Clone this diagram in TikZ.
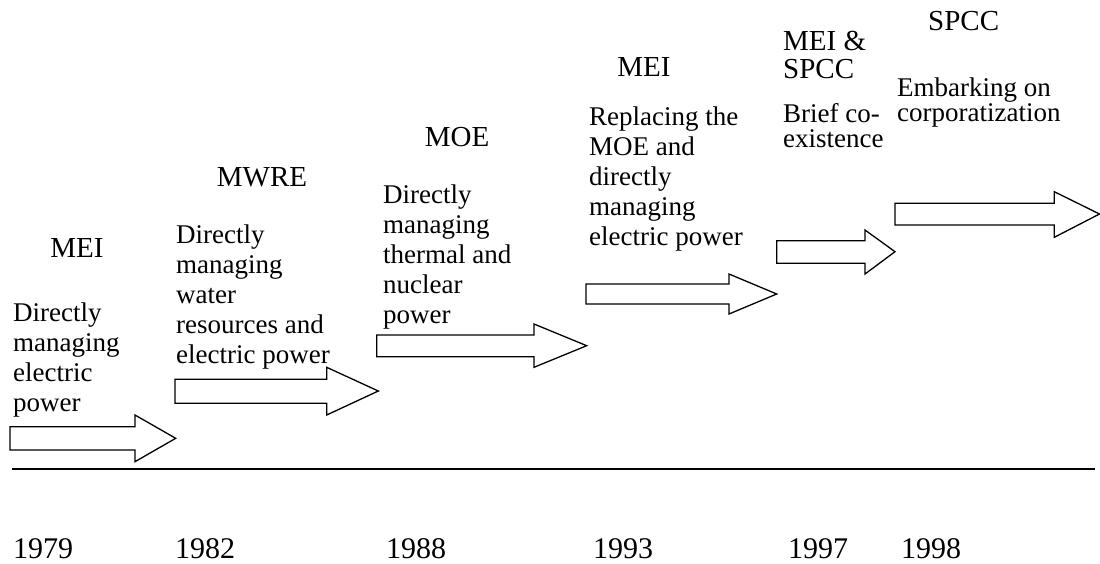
\documentclass[tikz,border=0pt]{standalone}
\usepackage{fontspec}
\setmainfont{Liberation Serif}
\newcommand\blkarrow[8]{\draw[arr] (#1,#2) -- (#4,#2) -- (#4,#5) -- (#7,#8) -- (#4,#6) -- (#4,#3) -- (#1,#3) -- cycle;}
\begin{document}
\begin{tikzpicture}[x=1pt,y=-1pt,
  arr/.style={draw=black,line width=1.3pt,fill=white,line join=miter},
  body/.style={anchor=base west,inner sep=0pt,align=left,font=\fontsize{27}{30}\selectfont},
  body5/.style={anchor=base west,inner sep=0pt,align=left,font=\fontsize{27}{24.5}\selectfont},
  head/.style={anchor=base,inner sep=0pt,align=center,font=\fontsize{29}{28}\selectfont},
  year/.style={anchor=base west,inner sep=0pt,font=\fontsize{30}{32}\selectfont}]
\useasboundingbox (0,0) rectangle (1100,563);
% headings
\node[head] (h1) at (77,257) {MEI};
\node[head] (h2) at (262,186) {MWRE};
\node[head] (h3) at (457,146) {MOE};
\node[head] (h4) at (644,76) {MEI};
\node[head,anchor=base west,align=left] (h5) at (783,78) {MEI \&\\SPCC};
\node[head,anchor=base west] (h6) at (928,30) {SPCC};
% bodies (anchor = baseline of last line)
\node[body] (b1) at (13,411) {Directly\\managing\\electric\\power};
\node[body] (b2) at (176,363.5) {Directly\\managing\\water\\resources and\\electric power};
\node[body] (b3) at (383,323.5) {Directly\\managing\\thermal and\\nuclear\\power};
\node[body] (b4) at (589,245) {Replacing the\\MOE and\\directly\\managing\\electric power};
\node[body5] (b5) at (783,147) {Brief co-\\existence};
\node[body5] (b6) at (897,121) {Embarking on\\corporatization};
% arrows
\blkarrow{10}{426.7}{450}{135}{415}{461.7}{175.7}{438.3}
\blkarrow{175}{379.3}{403.3}{326.7}{367.3}{415}{378.3}{391}
\blkarrow{376.7}{335}{356.7}{534}{324}{367.3}{586.7}{345.7}
\blkarrow{586}{284}{304}{729}{274}{314}{776.7}{294}
\blkarrow{776.7}{240.7}{263.3}{865}{230}{274}{895}{251.7}
\blkarrow{895}{203.3}{225}{1054.3}{191.7}{237.3}{1099.5}{214}
% timeline
\coordinate (l0) at (12,469);
\coordinate (l1) at (1095,469);
\draw[line width=1.3pt] (l0) -- (l1);
\node[year] (y1) at (13,558) {1979};
\node[year] (y2) at (175,558) {1982};
\node[year] (y3) at (386,558) {1988};
\node[year] (y4) at (593,558) {1993};
\node[year] (y5) at (788,558) {1997};
\node[year] (y6) at (901,558) {1998};
\end{tikzpicture}
\end{document}
